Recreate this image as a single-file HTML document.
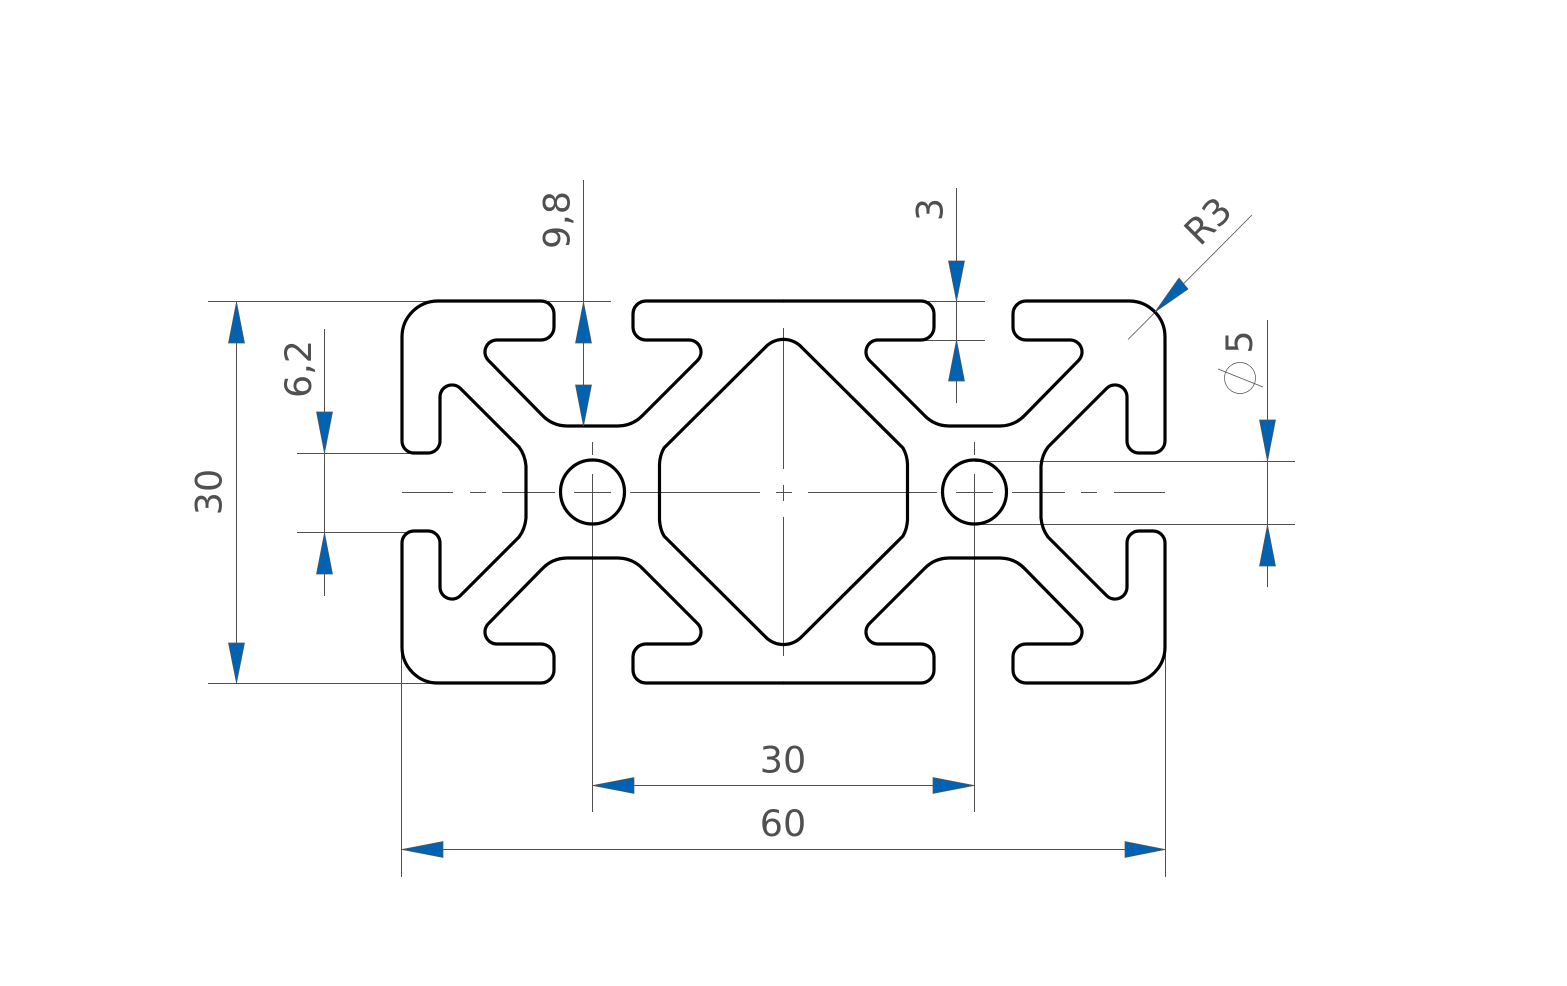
<!DOCTYPE html>
<html>
<head>
<meta charset="utf-8">
<style>
html,body{margin:0;padding:0;background:#fff;}
svg{display:block;}
text{font-family:"DejaVu Sans",sans-serif;font-size:36.5px;fill:#505050;}
</style>
</head>
<body>
<svg width="1567" height="986" viewBox="0 0 1567 986" xmlns="http://www.w3.org/2000/svg">
<defs>
<g id="q" fill="none" stroke="#000" stroke-width="3.2" stroke-linecap="round" stroke-linejoin="round">
<path d="M783.5 301 L646 301 A13 13 0 0 0 633 314 L633 327 A13 13 0 0 0 646 340 L689 340 A12 12 0 0 1 697.5 360.5 L643 415 A35 35 0 0 1 618 426 L567 426 A35 35 0 0 1 542 415 L488.5 360.5 A12 12 0 0 1 497 340 L541 340 A13 13 0 0 0 554 327 L554 314 A13 13 0 0 0 541 301 L438 301 A36 36 0 0 0 402 337 L402 441 A12 12 0 0 0 414 453 L428 453 A12 12 0 0 0 440 441 L440 397 A12 12 0 0 1 460.5 388.5 L516 444 L519 447 Q525 455 526 466 L526 492"/>
<path d="M783.5 339.4 A26 26 0 0 0 765 347.6 L667 445 L664 448 Q660 455 659.5 464 L659.5 492"/>
</g>
</defs>

<g stroke="#505050" stroke-width="1" fill="none" shape-rendering="crispEdges">
<!-- center lines horizontal -->
<path d="M402 492.5H453M470 492.5H486M502 492.5H555M574 492.5H611M630 492.5H760M776 492.5H792M808 492.5H937M956 492.5H993M1012 492.5H1065M1081 492.5H1097M1114 492.5H1165"/>
<!-- center lines vertical -->
<path d="M783.5 328V469M783.5 485V501M783.5 517V656"/>
<path d="M592.5 442V455M592.5 474V812M974.5 442V455M974.5 474V812"/>
<!-- extension lines -->
<path d="M208 301.5H611M208 683.5H430"/>
<path d="M297 453.5H410M297 532.5H410"/>
<path d="M923 301.5H985M923 340.5H985"/>
<path d="M975 461.5H1295M975 524.5H1295"/>
<path d="M401.5 650V877M1165.5 650V877"/>
<!-- dim lines -->
<path d="M236.5 301V683M324.5 329V596M583.5 180V426M956.5 188V403M1267.5 320V587"/>
<path d="M593 785.5H974M401 849.5H1165"/>
</g>
<!-- leader lines -->
<line x1="1252" y1="215" x2="1128" y2="339.5" stroke="#505050" stroke-width="0.8"/>
<circle cx="1240" cy="378" r="15.5" fill="none" stroke="#505050" stroke-width="0.7"/>
<line x1="1218" y1="369" x2="1263" y2="387" stroke="#505050" stroke-width="0.8"/>

<!-- profile -->
<use href="#q"/>
<use href="#q" transform="translate(1567,0) scale(-1,1)"/>
<use href="#q" transform="translate(0,984) scale(1,-1)"/>
<use href="#q" transform="translate(1567,984) scale(-1,-1)"/>
<circle cx="592.5" cy="492" r="32" fill="none" stroke="#000" stroke-width="3.2"/>
<circle cx="974.5" cy="492" r="32" fill="none" stroke="#000" stroke-width="3.2"/>

<!-- arrowheads -->
<g fill="#0062b1" stroke="#555" stroke-width="0.7">
<polygon points="236.5,302 228.5,343 244.5,343"/>
<polygon points="236.5,683 228.5,643 244.5,643"/>
<polygon points="324.5,453 316.5,412 332.5,412"/>
<polygon points="324.5,533 316.5,574 332.5,574"/>
<polygon points="583.5,302 575.5,343 591.5,343"/>
<polygon points="583.5,426 575.5,385 591.5,385"/>
<polygon points="956.5,301 948.5,261 964.5,261"/>
<polygon points="956.5,340 948.5,381 964.5,381"/>
<polygon points="1267.5,461 1259.5,420 1275.5,420"/>
<polygon points="1267.5,525 1259.5,566 1275.5,566"/>
<polygon points="593,785.5 634,777.5 634,793.5"/>
<polygon points="974,785.5 933,777.5 933,793.5"/>
<polygon points="402,849.5 443,841.5 443,857.5"/>
<polygon points="1165,849.5 1125,841.5 1125,857.5"/>
<polygon points="1155,312 1179,278 1188,289"/>
</g>

<!-- labels -->
<text x="783" y="772.5" text-anchor="middle">30</text>
<text x="783" y="836" text-anchor="middle">60</text>
<text transform="translate(221.5,492) rotate(-90)" text-anchor="middle">30</text>
<text transform="translate(311,369) rotate(-90)" text-anchor="middle">6,2</text>
<text transform="translate(569.5,220) rotate(-90)" text-anchor="middle">9,8</text>
<text transform="translate(942.5,209.5) rotate(-90)" text-anchor="middle">3</text>
<text transform="translate(1252,342) rotate(-90)" text-anchor="middle">5</text>
<text transform="translate(1217,230) rotate(-45)" text-anchor="middle">R3</text>
</svg>
</body>
</html>
